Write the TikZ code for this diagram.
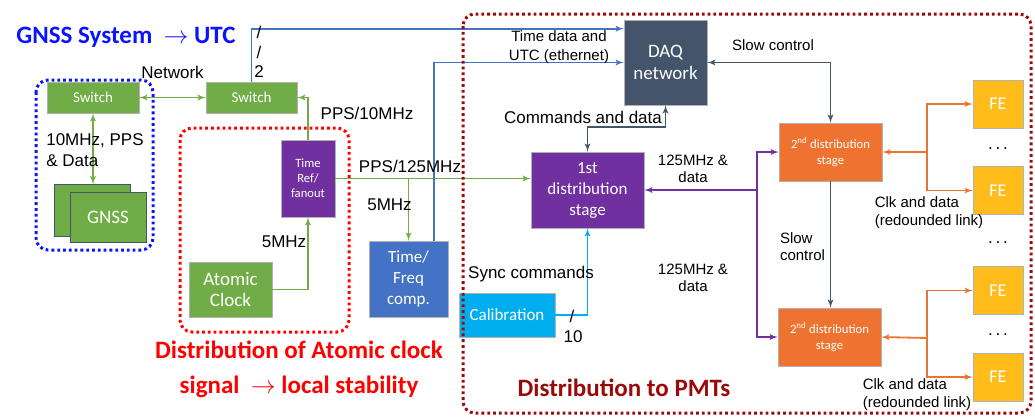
\documentclass[tikz,border=0pt]{standalone}
\usepackage{fontspec}
\setmainfont{Liberation Sans}
\newfontfamily\boxfont{Carlito}
\usetikzlibrary{arrows}
\definecolor{swgreen}{HTML}{70AD47}
\definecolor{refpurple}{HTML}{7030A0}
\definecolor{tfblue}{HTML}{4472C4}
\definecolor{daqgray}{HTML}{44546A}
\definecolor{calcyan}{HTML}{00AEEF}
\definecolor{stageorange}{HTML}{EE7330}
\definecolor{fegold}{HTML}{FFBC1A}
\definecolor{gnssblue}{HTML}{0A14FF}
\definecolor{pmtred}{HTML}{9B0A0A}

\begin{document}
\begin{tikzpicture}[x=1pt,y=-1pt]
        \tikzset{box/.style = {shape=rectangle,inner sep=0pt,text=white,align=center,draw=white!70!black,line width=0.6pt,font=\boxfont\fontsize{17}{21}\selectfont}}
        \tikzset{lbl/.style = {inner sep=0pt,align=center,font=\fontsize{17}{21}\selectfont}}
        \tikzset{lblsmall/.style = {inner sep=0pt,align=center,font=\fontsize{15}{18}\selectfont}}
        \tikzset{title/.style = {inner sep=0pt,align=center,font=\boxfont\bfseries\fontsize{25}{35}\selectfont}}
        \tikzset{link/.style = {->,> = latex',line width=1.8pt}}
        \tikzset{group/.style = {line width=3pt,dash pattern=on 2.8pt off 3pt,rounded corners=12pt}}
        \useasboundingbox (0,0) rectangle (1035,416);
        % boxes
        \node[box,fill=swgreen,minimum width=92pt,minimum height=31pt,font=\boxfont\fontsize{15}{18}\selectfont] (sw1) at (93,97.5) {Switch};
        \node[box,fill=swgreen,minimum width=91pt,minimum height=31pt,font=\boxfont\fontsize{15}{18}\selectfont] (sw2) at (251.5,97.5) {Switch};
        \node[box,fill=swgreen,draw=daqgray,minimum width=76pt,minimum height=52pt] (gnssb) at (92.5,210.5) {};
        \node[box,fill=swgreen,draw=daqgray,minimum width=76pt,minimum height=50pt,font=\boxfont\fontsize{19}{22}\selectfont] (gnss) at (108,217) {GNSS};
        \node[box,fill=refpurple,minimum width=54pt,minimum height=77pt,font=\boxfont\fontsize{12.6}{15}\selectfont] (tref) at (308,178.5) {Time\\Ref/\\fanout};
        \node[box,fill=swgreen,minimum width=83pt,minimum height=55pt,font=\boxfont\fontsize{19}{21}\selectfont] (atomic) at (230.5,289.5) {Atomic\\Clock};
        \node[box,fill=tfblue,minimum width=79pt,minimum height=76pt] (tfreq) at (408.5,279) {Time/\\Freq\\comp.};
        \node[box,fill=daqgray,minimum width=83pt,minimum height=85pt,font=\boxfont\fontsize{19}{22}\selectfont] (daq) at (665.5,62.5) {DAQ\\network};
        \node[box,fill=refpurple,minimum width=113pt,minimum height=76pt] (dist1) at (587.5,190) {1st\\distribution\\stage};
        \node[box,fill=calcyan,minimum width=96pt,minimum height=44pt] (calib) at (507,315) {Calibration};
        \node[box,fill=stageorange,minimum width=103pt,minimum height=58pt,font=\boxfont\fontsize{12.7}{16}\selectfont] (dist2a) at (830.5,152) {2\textsuperscript{nd} distribution\\stage};
        \node[box,fill=stageorange,minimum width=103pt,minimum height=58pt,font=\boxfont\fontsize{12.7}{16}\selectfont] (dist2b) at (829.5,337) {2\textsuperscript{nd} distribution\\stage};
        \node[box,fill=fegold,minimum width=50pt,minimum height=48pt,font=\boxfont\fontsize{18}{21}\selectfont] (fe1) at (998,104) {FE};
        \node[box,fill=fegold,minimum width=50pt,minimum height=48pt,font=\boxfont\fontsize{18}{21}\selectfont] (fe2) at (998,190.5) {FE};
        \node[box,fill=fegold,minimum width=50pt,minimum height=48pt,font=\boxfont\fontsize{18}{21}\selectfont] (fe3) at (998,290.5) {FE};
        \node[box,fill=fegold,minimum width=50pt,minimum height=48pt,font=\boxfont\fontsize{18}{21}\selectfont] (fe4) at (998,377) {FE};
        \node[lbl] (dots1) at (998,149) {.\,.\,.};
        \node[lbl] (dots2) at (998,243) {.\,.\,.};
        \node[lbl] (dots3) at (998,335) {.\,.\,.};
        % junctions
        \coordinate (br) at (tref.east -| tfreq.north);
        \coordinate (pj) at (757,190);
        \coordinate (oa) at (927,152);
        \coordinate (ob) at (927,338);
        % links
        \draw[link,<->,swgreen] (sw1) -- (sw2);
        \draw[link,<->,swgreen] (sw1) -- (sw1 |- gnssb.north);
        \draw[link,swgreen] (tref.north) |- (sw2.east);
        \draw[link,swgreen] (atomic.east) -| (tref.south);
        \draw[link,swgreen] (tref.east) -- (tref.east -| dist1.west);
        \draw[link,swgreen] (br) -- (tfreq.north);
        \draw[link,tfblue] (sw2.north) |- ([yshift=-9pt]daq.north west);
        \draw[link,tfblue] ([xshift=-14pt]tfreq.north east) |- (daq.west);
        \draw[link,<->,daqgray] (daq.south) -- ++(0,22) -| (dist1.north);
        \draw[link,<->,daqgray] (daq.east) -| (dist2a.north);
        \draw[link,daqgray] (dist2a.south) -- (dist2a.south |- dist2b.north);
        \draw[link,calcyan] (calib.east) -| (dist1.south);
        \draw[link,<-,refpurple] (dist1.east) -- (pj);
        \draw[link,refpurple] (pj) |- (dist2a.west);
        \draw[link,refpurple] (pj) |- (dist2b.west);
        \draw[link,<-,stageorange] (dist2a.east) -- (oa);
        \draw[link,stageorange] (oa) |- (fe1.west);
        \draw[link,stageorange] (oa) |- (fe2.west);
        \draw[link,<-,stageorange] (dist2b.east) -- (ob);
        \draw[link,stageorange] (ob) |- (fe3.west);
        \draw[link,stageorange] (ob) |- (fe4.west);
        % labels
        \node[lbl] (net) at (172.5,72) {Network};
        \node[lbl,align=left] (gnsssig) at (95,150.5) {10MHz, PPS\\\& Data};
        \node[lbl] (bus1) at (259,32) {/};
        \node[lbl] (bus2) at (259,52) {/};
        \node[lbl] (bus3) at (259,72) {2};
        \node[lbl] (pps10) at (367,113) {PPS/10MHz};
        \node[lbl] (pps125) at (410,166) {PPS/125MHz};
        \node[lbl] (mhz5a) at (389.5,205) {5MHz};
        \node[lbl] (mhz5b) at (284,242) {5MHz};
        \node[lblsmall,font=\fontsize{15}{19}\selectfont] (utc) at (559,47.5) {Time data and\\UTC (ethernet)};
        \node[lbl] (cmd) at (583,117) {Commands and data};
        \node[lblsmall] (slow1) at (773,45) {Slow control};
        \node[lblsmall,align=left,font=\fontsize{15}{17}\selectfont] (slow2) at (802.5,247) {Slow\\control};
        \node[lblsmall,font=\fontsize{15}{17}\selectfont] (rate1) at (693,169) {125MHz \&\\data};
        \node[lblsmall,font=\fontsize{15}{17}\selectfont] (rate2) at (693,277.5) {125MHz \&\\data};
        \node[lbl] (sync) at (531,274) {Sync commands};
        \node[lbl] (bus4) at (572,316) {/};
        \node[lbl] (bus5) at (573,337) {10};
        \node[lblsmall,align=left] (clk1) at (929,213) {Clk and data\\(redounded link)};
        \node[lblsmall,align=left] (clk2) at (917,394.5) {Clk and data\\(redounded link)};
        % groups
        \draw[group,gnssblue] (36,80) rectangle (153,250);
        \draw[group,red] (180,128) rectangle (349,332);
        \draw[group,pmtred] (463,14) rectangle (1031,413);
        % titles
        \node[title,text=gnssblue] (t1) at (126,37) {GNSS System \ $\rightarrow$ UTC};
        \node[title,text=red] (t2) at (299,369.5) {Distribution of Atomic clock\\signal \ $\rightarrow$ local stability};
        \node[title,text=pmtred] (t3) at (624,388) {Distribution to PMTs};
\end{tikzpicture}
\end{document}
